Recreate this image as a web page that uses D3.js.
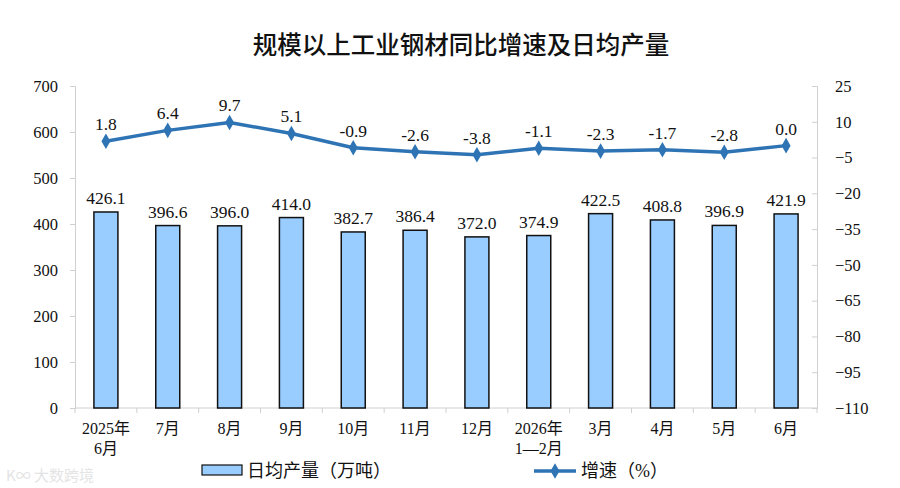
<!DOCTYPE html>
<html>
<head>
<meta charset="utf-8">
<script src="https://cdn.jsdelivr.net/npm/d3@7"></script>
<style>
  body { margin: 0; background: #fff; }
  svg { display: block; }
</style>
</head>
<body>
<svg id="chart" width="900" height="488"></svg>
<script>
// data
const months = [["2025年", "6月"], ["7月"], ["8月"], ["9月"], ["10月"], ["11月"], ["12月"], ["2026年", "1—2月"], ["3月"], ["4月"], ["5月"], ["6月"]];
const dailyOutput = [426.1, 396.6, 396.0, 414.0, 382.7, 386.4, 372.0, 374.9, 422.5, 408.8, 396.9, 421.9];
const growth = [1.8, 6.4, 9.7, 5.1, -0.9, -2.6, -3.8, -1.1, -2.3, -1.7, -2.8, 0.0];
const leftTicks = [0, 100, 200, 300, 400, 500, 600, 700];
const rightTicks = [25, 10, -5, -20, -35, -50, -65, -80, -95, -110];

const numFont = "'Liberation Serif', 'Noto Sans CJK SC', serif";
const cjkFont = "'Liberation Serif', 'Noto Sans CJK SC', serif";

const svg = d3.select("#chart");
const plotLeft = 75, plotRight = 817, plotTop = 86, plotBottom = 408;
const idx = d3.range(months.length);

const x = d3.scaleBand().domain(idx).range([plotLeft, plotRight]);
const yL = d3.scaleLinear().domain([0, 700]).range([plotBottom, plotTop]);
const yR = d3.scaleLinear().domain([-110, 25]).range([plotBottom, plotTop]);

// title
svg.append("text")
    .attr("x", 461).attr("y", 54)
    .attr("text-anchor", "middle")
    .style("font-family", "'Noto Sans CJK SC', sans-serif")
    .style("font-size", "24.5px")
    .style("font-weight", "500")
    .attr("fill", "#111")
    .text("规模以上工业钢材同比增速及日均产量");

// left axis
const gl = svg.append("g")
    .attr("transform", `translate(${plotLeft},0)`)
    .call(d3.axisLeft(yL).tickValues(leftTicks).tickSize(5).tickPadding(12));
gl.select(".domain").attr("stroke", "#d0d0d0");
gl.selectAll(".tick line").attr("stroke", "#d0d0d0");
gl.selectAll("text").style("font-family", numFont).style("font-size", "16.5px").attr("fill", "#111");

// right axis
const gr = svg.append("g")
    .attr("transform", `translate(${plotRight},0)`)
    .call(d3.axisRight(yR).tickValues(rightTicks).tickSize(-5).tickPadding(18));
gr.select(".domain").attr("stroke", "#d0d0d0");
gr.selectAll(".tick line").attr("stroke", "#d0d0d0");
gr.selectAll("text").style("font-family", numFont).style("font-size", "16.5px").attr("fill", "#111");

// x baseline + category separators
svg.append("line")
    .attr("x1", plotLeft).attr("x2", plotRight)
    .attr("y1", plotBottom).attr("y2", plotBottom)
    .attr("stroke", "#d0d0d0");
svg.append("g").selectAll("line")
    .data(d3.range(months.length + 1))
    .join("line")
    .attr("x1", i => plotLeft + i * x.step()).attr("x2", i => plotLeft + i * x.step())
    .attr("y1", plotBottom).attr("y2", plotBottom + 5)
    .attr("stroke", "#d0d0d0");

// x labels
const xl = svg.append("g").selectAll("text")
    .data(idx)
    .join("text")
    .attr("text-anchor", "middle")
    .style("font-family", cjkFont)
    .style("font-size", "16px")
    .attr("fill", "#111");
xl.each(function(i) {
    const t = d3.select(this);
    months[i].forEach((line, k) => {
        t.append("tspan")
            .attr("x", x(i) + x.bandwidth() / 2)
            .attr("y", 434 + k * 20)
            .text(line);
    });
});

// bars
const barW = 24;
svg.append("g").selectAll("rect")
    .data(idx)
    .join("rect")
    .attr("x", i => x(i) + x.bandwidth() / 2 - barW / 2)
    .attr("width", barW)
    .attr("y", i => yL(dailyOutput[i]))
    .attr("height", i => yL(0) - yL(dailyOutput[i]))
    .attr("fill", "#99ccff")
    .attr("stroke", "#111")
    .attr("stroke-width", 1.5);

// bar labels
svg.append("g").selectAll("text")
    .data(idx)
    .join("text")
    .attr("x", i => x(i) + x.bandwidth() / 2)
    .attr("y", i => yL(dailyOutput[i]) - 8)
    .attr("text-anchor", "middle")
    .style("font-family", numFont)
    .style("font-size", "17.5px")
    .attr("fill", "#111")
    .text(i => dailyOutput[i].toFixed(1));

// growth line
const line = d3.line()
    .x(i => x(i) + x.bandwidth() / 2)
    .y(i => yR(growth[i]));
svg.append("path")
    .datum(idx)
    .attr("d", line)
    .attr("fill", "none")
    .attr("stroke", "#2e74b5")
    .attr("stroke-width", 3.5)
    .attr("stroke-linejoin", "round");

const diamond = d3.symbol().type(d3.symbolDiamond).size(70);
svg.append("g").selectAll("path")
    .data(idx)
    .join("path")
    .attr("transform", i => `translate(${x(i) + x.bandwidth() / 2},${yR(growth[i])})`)
    .attr("d", diamond)
    .attr("fill", "#2e74b5");

svg.append("g").selectAll("text")
    .data(idx)
    .join("text")
    .attr("x", i => x(i) + x.bandwidth() / 2)
    .attr("y", i => yR(growth[i]) - 11)
    .attr("text-anchor", "middle")
    .style("font-family", numFont)
    .style("font-size", "17.5px")
    .attr("fill", "#111")
    .text(i => growth[i].toFixed(1));

// legend
const lg = svg.append("g");
lg.append("rect")
    .attr("x", 202).attr("y", 465).attr("width", 40).attr("height", 10)
    .attr("fill", "#99ccff").attr("stroke", "#111").attr("stroke-width", 1.2);
lg.append("text")
    .attr("x", 247).attr("y", 477)
    .style("font-family", cjkFont).style("font-size", "18px").attr("fill", "#111")
    .text("日均产量（万吨）");
lg.append("line")
    .attr("x1", 534).attr("x2", 576).attr("y1", 471).attr("y2", 471)
    .attr("stroke", "#2e74b5").attr("stroke-width", 3.5);
lg.append("path")
    .attr("transform", "translate(555,471)")
    .attr("d", diamond)
    .attr("fill", "#2e74b5");
lg.append("text")
    .attr("x", 581).attr("y", 477)
    .style("font-family", cjkFont).style("font-size", "18px").attr("fill", "#111")
    .text("增速（%）");

// watermark
svg.append("text")
    .attr("x", 6).attr("y", 481)
    .style("font-family", "'Noto Sans CJK SC', sans-serif")
    .style("font-size", "15px")
    .attr("fill", "#e4e4e4")
    .text("K∞ 大数跨境");
</script>
</body>
</html>
